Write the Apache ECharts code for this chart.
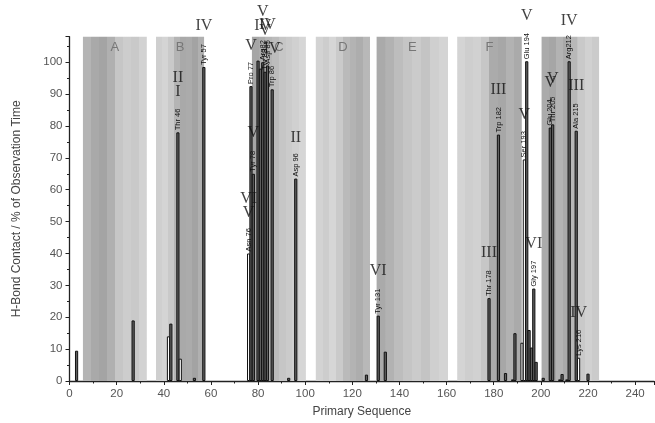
<!DOCTYPE html>
<html>
<head>
<meta charset="utf-8">
<script src="https://cdn.jsdelivr.net/npm/echarts@6/dist/echarts.min.js"></script>
<style>html,body{margin:0;padding:0;background:#fff}#chart{width:655px;height:423px}</style>
</head>
<body>
<div id="chart"></div>
<script>
// residue number and H-bond contact (% of observation time)
const residues = [3, 27, 42, 43, 46, 47, 53, 57, 76, 77, 78, 80, 81, 82, 83, 84, 86, 93, 96, 126, 131, 134,
  178, 182, 185, 188, 189, 192, 193, 194, 195, 196, 197, 198, 201, 204, 205, 208, 209, 211, 212, 215, 216, 220];
const contact = [9.5, 19, 14, 18, 78, 7, 1, 98.5, 40, 92.5, 65, 100.5, 98, 100, 97, 99, 91.5, 1, 63.5, 2, 20.5, 9.2,
  26, 77.3, 2.5, 0.5, 15, 12, 69.5, 100.3, 16, 10.5, 29, 6, 1, 79.5, 80.5, 0.5, 2.2, 0.5, 100.3, 78.5, 7.3, 2.3];
// residues drawn as open (white) bars
const openBars = [42, 47, 76, 192, 193, 216];
// residue name labels and roman numeral annotations
const resName = {46: 'Thr 46', 57: 'Tyr 57', 76: 'Asn 76', 77: 'Pro 77', 78: 'Tyr 78', 82: 'Arg82', 83: 'Tyr 83',
  84: 'Asp 85', 86: 'Trp 86', 96: 'Asp 96', 131: 'Tyr 131', 178: 'Thr 178', 182: 'Trp 182', 193: 'Ser 193',
  194: 'Glu 194', 197: 'Gly 197', 204: 'Glu 204', 205: 'Thr 205', 212: 'Arg212', 215: 'Ala 215', 216: 'Lys 216'};
const numeral = {46: 'II\nI', 57: 'IV', 76: 'VI\nV', 77: 'V', 78: 'V', 82: 'V\nIV', 83: 'V', 84: 'IV', 86: 'IV',
  96: 'II', 131: 'VI', 178: 'III', 182: 'III', 193: 'V', 194: 'V', 197: 'VI', 204: 'V', 205: 'V', 212: 'IV',
  215: 'III', 216: 'IV'};
// shaded regions [start, end, label]
const regionStart = [5.7, 36.7, 77.4, 104.5, 130.3, 164.5, 200.3];
const regionEnd = [32.8, 57.1, 100.3, 127.5, 160.6, 191.9, 224.7];
const regionName = ['A', 'B', 'C', 'D', 'E', 'F', ''];
// stripe shading of each region (left to right)
const regionShades = [
  ['#b4b4b4', '#a9a9a9', '#a4a4a4', '#b0b0b0', '#c6c6c6', '#cdcdcd', '#c9c9c9', '#d2d2d2'],
  ['#cfcfcf', '#d4d4d4', '#c9c9c9', '#b4b4b4', '#a9a9a9', '#ababab', '#a3a3a3', '#b0b0b0'],
  ['#a6a6a6', '#acacac', '#b6b6b6', '#bcbcbc', '#c6c6c6', '#cbcbcb', '#d0d0d0', '#d6d6d6'],
  ['#d3d3d3', '#cdcdcd', '#d6d6d6', '#cacaca', '#bababa', '#b3b3b3', '#adadad', '#b8b8b8'],
  ['#aaaaaa', '#b2b2b2', '#bdbdbd', '#c5c5c5', '#cbcbcb', '#c4c4c4', '#cfcfcf', '#d4d4d4'],
  ['#d4d4d4', '#cecece', '#d1d1d1', '#c6c6c6', '#ababab', '#a7a7a7', '#b2b2b2', '#aaaaaa'],
  ['#ababab', '#a6a6a6', '#b3b3b3', '#a9a9a9', '#b8b8b8', '#c9c9c9', '#d1d1d1', '#cbcbcb']
];

function stripes(shades) {
  const stops = [];
  shades.forEach(function (c, i) {
    stops.push({offset: i / shades.length, color: c});
    stops.push({offset: (i + 1) / shades.length - 0.001, color: c});
  });
  return new echarts.graphic.LinearGradient(0, 0, 1, 0, stops);
}

const chart = echarts.init(document.getElementById('chart'));

const areas = regionStart.map(function (s, i) {
  return [{
    xAxis: s,
    name: regionName[i],
    itemStyle: {color: stripes(regionShades[i])}
  }, {xAxis: regionEnd[i]}];
});

const barData = residues.map(function (r, i) {
  const open = openBars.indexOf(r) >= 0;
  return {
    value: [r, contact[i]],
    itemStyle: {color: open ? '#ffffff' : '#5f5f5f'}
  };
});

const numeralData = residues.filter(function (r) { return numeral[r]; }).map(function (r) {
  const v = contact[residues.indexOf(r)];
  const len = resName[r] ? resName[r].length : 0;
  return {value: [r, v], label: {offset: [0, -(len * 4.3 + 3)]}, name: numeral[r]};
});

const font = 'Liberation Sans, Arial, sans-serif';

chart.setOption({
  animation: false,
  grid: {left: 69.5, width: 584.5, top: 36.7, height: 345},
  xAxis: {
    type: 'value', min: 0, max: 248, interval: 20,
    name: 'Primary Sequence', nameLocation: 'middle', nameGap: 25,
    nameTextStyle: {color: '#444', fontSize: 12, fontFamily: font},
    axisLine: {lineStyle: {color: '#222', width: 1.3}},
    axisTick: {length: 4, lineStyle: {color: '#222'}},
    minorTick: {show: true, splitNumber: 2, length: 2.5, lineStyle: {color: '#222'}},
    axisLabel: {color: '#555', fontSize: 11.5, fontFamily: font, margin: 7},
    splitLine: {show: false}
  },
  yAxis: {
    type: 'value', min: 0, max: 108, interval: 10,
    name: 'H-Bond Contact / % of Observation Time', nameLocation: 'middle', nameGap: 47,
    nameTextStyle: {color: '#444', fontSize: 12, fontFamily: font},
    axisLine: {show: true, lineStyle: {color: '#222', width: 1.3}},
    axisTick: {length: 4, lineStyle: {color: '#222'}},
    minorTick: {show: true, splitNumber: 2, length: 2.5, lineStyle: {color: '#222'}},
    axisLabel: {color: '#555', fontSize: 11.5, fontFamily: font, margin: 7, showMaxLabel: false},
    splitLine: {show: false}
  },
  series: [
    {
      type: 'line', data: [], z: 1, silent: true,
      markArea: {
        silent: true,
        label: {show: true, position: 'insideTop', distance: 4, color: '#777', fontSize: 13, fontFamily: font},
        data: areas
      }
    },
    {
      type: 'bar', z: 3, barWidth: 3.2, barGap: '-100%',
      itemStyle: {borderColor: '#111', borderWidth: 1},
      label: {
        show: true, position: 'top', rotate: 90, align: 'left', verticalAlign: 'middle',
        distance: 2, fontSize: 7.5, fontFamily: font, color: '#111',
        formatter: function (p) { return resName[p.value[0]] || ''; }
      },
      data: barData
    },
    {
      type: 'scatter', z: 4, symbolSize: 0, silent: true,
      label: {
        show: true, position: 'top', fontFamily: 'Liberation Serif, DejaVu Serif, serif', fontSize: 16,
        lineHeight: 14, color: '#111', formatter: function (p) { return p.name; }
      },
      data: numeralData
    }
  ]
});
</script>
</body>
</html>
